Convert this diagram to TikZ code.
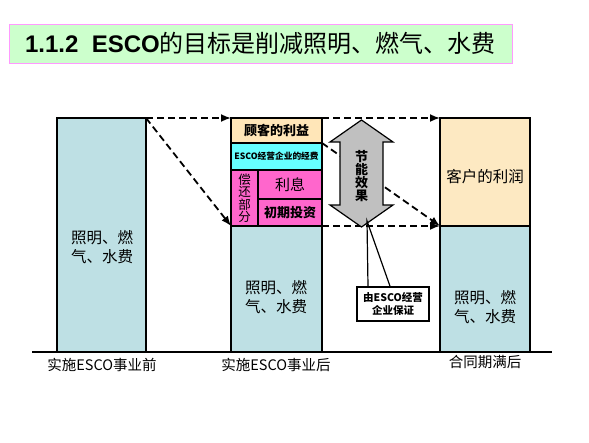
\documentclass[tikz,border=0pt]{standalone}
\usepackage{fontspec}
\setmainfont{Noto Sans CJK SC}
\newfontfamily\lat{Liberation Sans}
\usetikzlibrary{arrows.meta}
\definecolor{barblue}{RGB}{190,224,228}
\definecolor{peach}{RGB}{255,230,184}
\definecolor{peach2}{RGB}{253,233,194}
\definecolor{escocyan}{RGB}{102,255,255}
\definecolor{payPink}{RGB}{255,102,204}
\definecolor{titlegreen}{RGB}{204,255,204}
\definecolor{titleborder}{RGB}{255,153,255}
\definecolor{arrowgray}{RGB}{192,192,192}
\tikzset{
  box/.style={draw=black, line width=1.6pt, inner sep=0pt, outer sep=0pt, anchor=north west, align=center},
  dasharrow/.style={dash pattern=on 7pt off 4pt, line width=1.8pt, -{Latex[length=10pt,width=8pt]}},
  lbl/.style={font=\fontsize{14.5}{16}\selectfont, inner sep=0pt},
  bartext/.style={font=\fontsize{15.5}{19}\selectfont, inner sep=0pt, align=center},
}
\begin{document}
\begin{tikzpicture}[x=1pt,y=-1pt]
\useasboundingbox (0,0) rectangle (589,442);
% title
\node[draw=titleborder, fill=titlegreen, line width=1pt, minimum width=503pt, minimum height=39pt, inner sep=0pt] (title) at (260.5,43.5)
  {\fontsize{24}{26}\selectfont{\lat\bfseries 1.1.2\ \ ESCO}的目标是削减照明、燃气、水费};
% bars
\node[box, fill=barblue, minimum width=89pt, minimum height=234pt] (bar1) at (57,118) {};
\node[bartext] (bar1t) at (102,247) {照明、燃\\气、水费};
\node[box, fill=barblue, minimum width=91pt, minimum height=126pt] (b2blue) at (231,226) {};
\node[bartext] (b2t) at (276,297) {照明、燃\\气、水费};
\node[box, fill=peach, minimum width=91pt, minimum height=25pt, font=\fontsize{13}{15}\selectfont\bfseries] (gk) at (231,118) {顾客的利益};
\node[box, fill=escocyan, minimum width=91pt, minimum height=27pt, font=\fontsize{8.7}{10}\selectfont\bfseries] (esco) at (231,143) {ESCO经营企业的经费};
\node[box, fill=payPink, minimum width=27pt, minimum height=56pt, font=\fontsize{12.5}{12.5}\selectfont] (pay) at (231,170) {偿\\还\\部\\分};
\node[box, fill=payPink, minimum width=64pt, minimum height=29pt, font=\fontsize{15}{17}\selectfont] (li) at (258,170) {利息};
\node[box, fill=payPink, minimum width=64pt, minimum height=27pt, font=\fontsize{13}{15}\selectfont\bfseries] (init) at (258,199) {初期投资};
\node[box, fill=peach2, minimum width=90pt, minimum height=108pt] (b3top) at (440,118) {};
\node[bartext] (b3tt) at (485,177) {客户的利润};
\node[box, fill=barblue, minimum width=90pt, minimum height=126pt] (b3bot) at (440,226) {};
\node[bartext] (b3bt) at (485,307) {照明、燃\\气、水费};
% baseline
\coordinate (bl) at (32,352);
\coordinate (br) at (552,352);
\draw[line width=1.5pt] (bl) -- (br);
% labels
\node[lbl] (l1) at (102,365) {实施ESCO事业前};
\node[lbl] (l2) at (276,365) {实施ESCO事业后};
\node[lbl] (l3) at (485,362) {合同期满后};
% dashed arrows
\draw[dasharrow] (bar1.north east) -- (gk.north west);
\draw[dasharrow] (bar1.north east) -- (b2blue.north west);
\draw[dasharrow] (gk.north east) -- (b3top.north west);
\draw[dasharrow] (b2blue.north east) -- (b3bot.north west);
\draw[dasharrow] (esco.north east) -- (b3bot.north west);
% gray double arrow
\draw[fill=arrowgray, line width=1.2pt, line join=miter]
  (361.5,120) -- (393,142) -- (383,142) -- (383,205) -- (393,205) -- (361.5,227)
  -- (330,205) -- (340,205) -- (340,142) -- (330,142) -- cycle;
\node[font=\fontsize{13}{13}\selectfont\bfseries, align=center, inner sep=0pt] (effect) at (361.5,176) {节\\能\\效\\果};
% callout
\coordinate (apex) at (367,221);
\node[draw=black, fill=white, line width=1.6pt, minimum width=72pt, minimum height=34pt, inner sep=0pt, align=center,
  font=\fontsize{10.5}{13}\selectfont\bfseries] (callout) at (393,304) {由ESCO经营\\企业保证};
\draw[line width=1.2pt] (callout.north west -| 368,0) -- (apex) -- (callout.north west -| 390,0);
\end{tikzpicture}
\end{document}
